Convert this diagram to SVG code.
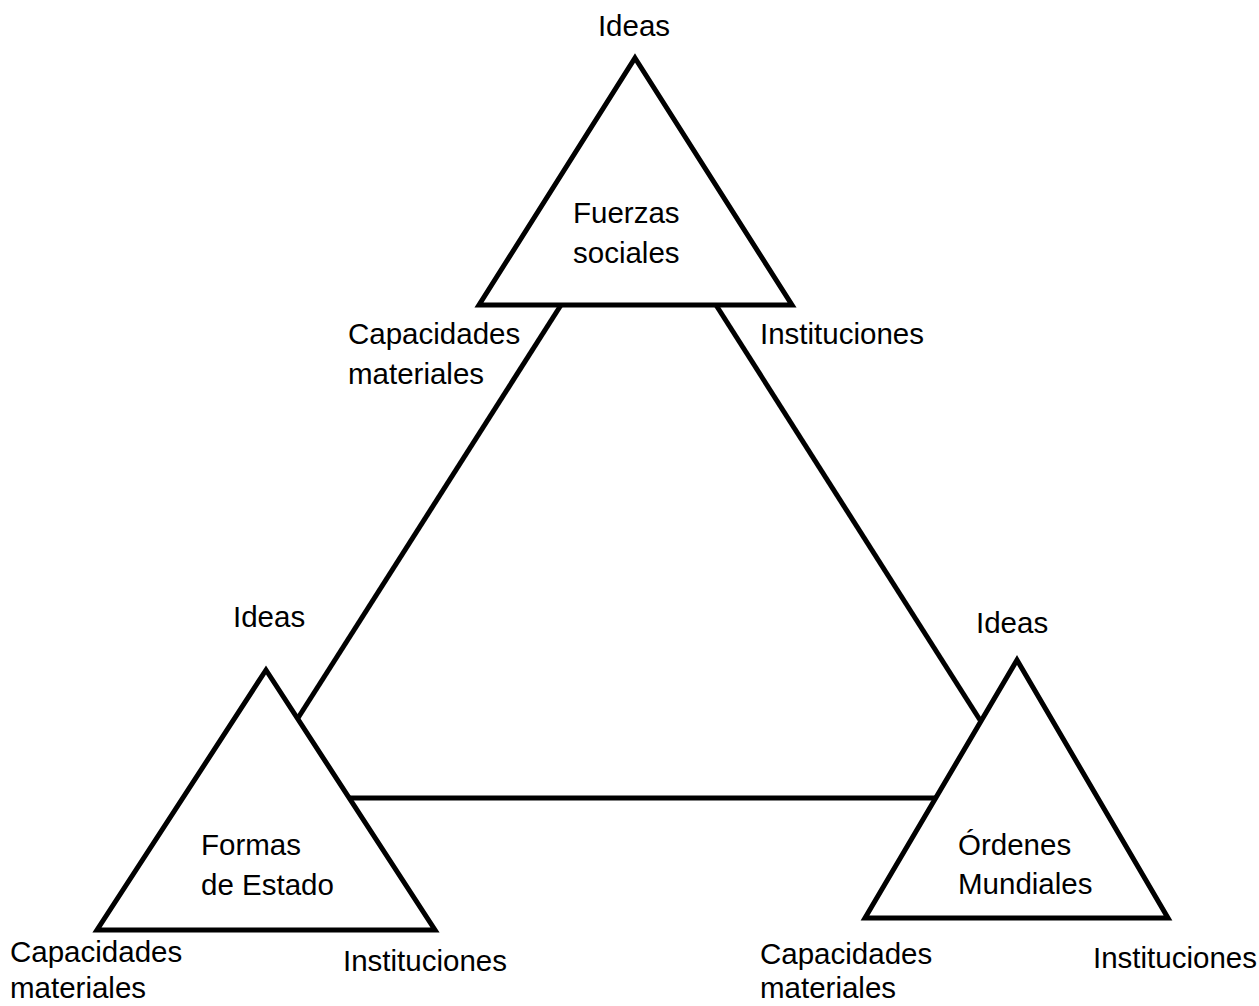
<svg xmlns="http://www.w3.org/2000/svg" width="1259" height="1006" viewBox="0 0 1259 1006">
<style>
.tri{fill:none;stroke:#000;stroke-width:5;stroke-linejoin:miter}
.con{fill:none;stroke:#000;stroke-width:5}
text{font-family:"Liberation Sans",Arial,sans-serif;font-size:29.5px;fill:#000}
</style>
<rect width="1259" height="1006" fill="#fff"/>
<g id="connectors">
<line class="con" x1="561" y1="305" x2="298" y2="718"/>
<line class="con" x1="716" y1="305" x2="980" y2="720"/>
<line class="con" x1="349" y1="798" x2="935" y2="798"/>
</g>
<g id="fuerzas-sociales">
<polygon class="tri" points="635,58 792,305 479,305"/>
<text x="573" y="223">Fuerzas</text>
<text x="573" y="263">sociales</text>
<text x="634" y="36" text-anchor="middle">Ideas</text>
<text x="348" y="344">Capacidades</text>
<text x="348" y="384">materiales</text>
<text x="760" y="344">Instituciones</text>
</g>
<g id="formas-de-estado">
<polygon class="tri" points="266,670 435,930 97,930"/>
<text x="201" y="855">Formas</text>
<text x="201" y="895">de Estado</text>
<text x="233" y="627">Ideas</text>
<text x="10" y="962">Capacidades</text>
<text x="10" y="998">materiales</text>
<text x="343" y="971">Instituciones</text>
</g>
<g id="ordenes-mundiales">
<polygon class="tri" points="1017,660 1168,918 865,918"/>
<text x="958" y="855">Órdenes</text>
<text x="958" y="894">Mundiales</text>
<text x="976" y="633">Ideas</text>
<text x="760" y="964">Capacidades</text>
<text x="760" y="998">materiales</text>
<text x="1093" y="968">Instituciones</text>
</g>
</svg>
